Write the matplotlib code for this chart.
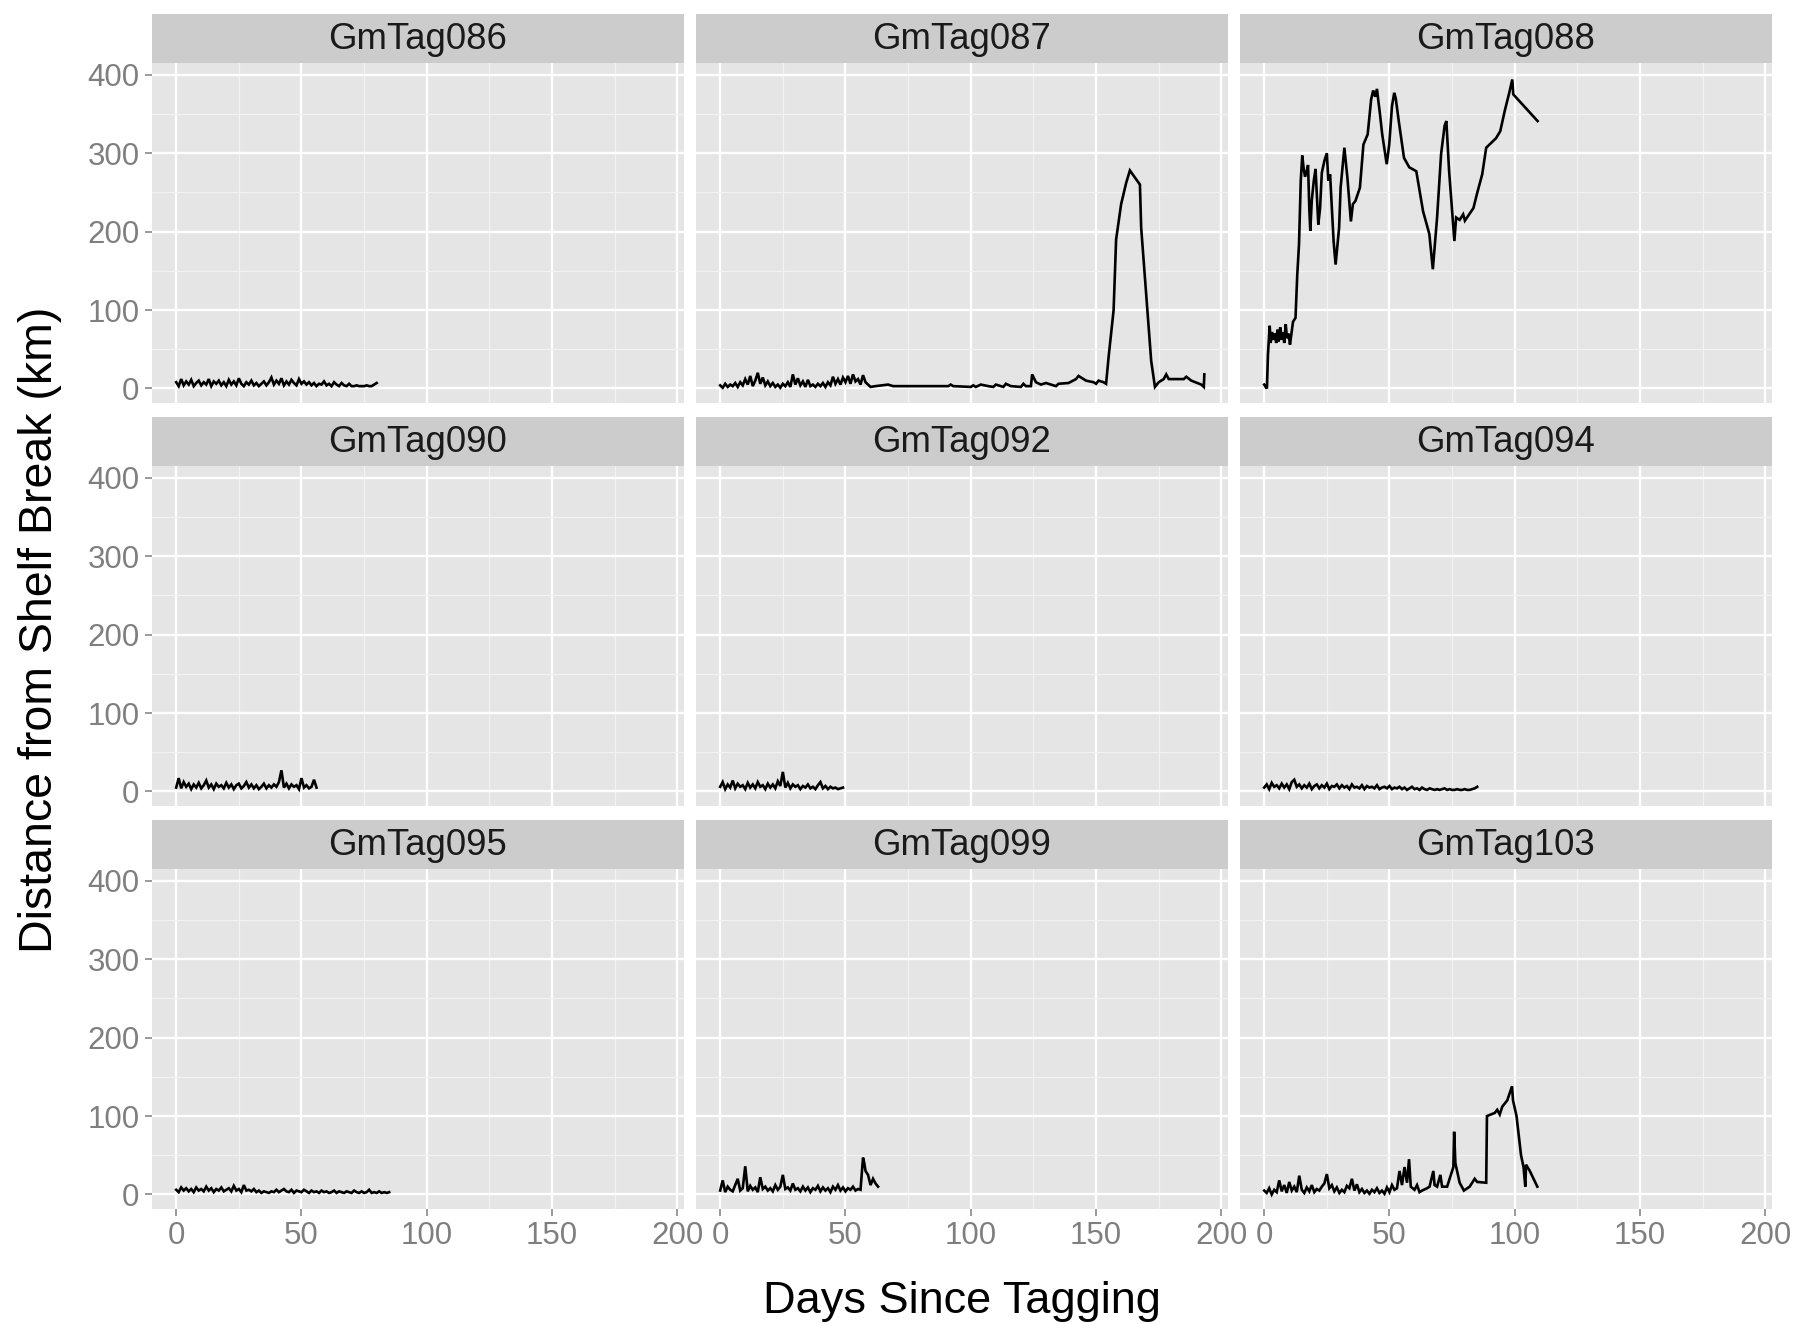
import matplotlib
matplotlib.use("Agg")
import matplotlib.pyplot as plt
from matplotlib.ticker import MultipleLocator

plt.rcParams['font.family'] = ['Liberation Sans', 'DejaVu Sans']

tags = ["GmTag086", "GmTag087", "GmTag088",
        "GmTag090", "GmTag092", "GmTag094",
        "GmTag095", "GmTag099", "GmTag103"]

# ---------------- data (days since tagging, km from shelf break) ----------------
days_086 = [0, 1, 2, 3, 4, 5, 6, 7, 8, 9,
            10, 11, 12, 13, 14, 15, 16, 17, 18, 19,
            20, 21, 22, 23, 24, 25, 26, 27, 28, 29,
            30, 31, 32, 33, 34, 35, 36, 37, 38, 39,
            40, 41, 42, 43, 44, 45, 46, 47, 48, 49,
            50, 51, 52, 53, 54, 55, 56, 57, 58, 59,
            60, 61, 62, 63, 64, 65, 66, 67, 68, 69,
            70, 71, 72, 73, 74, 75, 76, 77, 78, 79,
            80]
dist_086 = [8, 3, 12, 4, 9, 5, 11, 3, 7, 10,
            4, 8, 5, 12, 3, 9, 6, 10, 4, 8,
            3, 11, 5, 9, 4, 13, 6, 3, 8, 5,
            10, 4, 7, 3, 6, 9, 4, 8, 14, 5,
            10, 6, 13, 4, 9, 5, 11, 7, 4, 12,
            6, 9, 5, 8, 4, 7, 3, 6, 5, 9,
            4, 6, 3, 8, 5, 3, 7, 4, 3, 6,
            3, 3, 4, 3, 3, 3, 4, 3, 3, 5,
            7]

days_087 = [0, 1, 2, 3, 4, 5, 6, 7, 8, 9,
            10, 11, 12, 13, 14, 15, 16, 17, 18, 19,
            20, 21, 22, 23, 24, 25, 26, 27, 28, 29,
            30, 31, 32, 33, 34, 35, 36, 37, 38, 39,
            40, 41, 42, 43, 44, 45, 46, 47, 48, 49,
            50, 51, 52, 53, 54, 55, 56, 57,
            58, 60, 62, 67, 69, 80, 91, 92, 93, 100,
            101, 102, 104, 107, 109, 110, 113, 114, 116, 120,
            121, 122, 124, 124.5, 126, 128, 130, 134, 135, 139,
            142, 143, 146, 149, 150, 151, 153, 154, 155, 157,
            158, 160, 162, 163.5, 167.5, 168, 170, 172, 173.5, 175,
            177, 178, 179, 185, 186, 188, 192, 193, 193.2]
dist_087 = [4, 1, 6, 2, 5, 3, 7, 2, 8, 4,
            12, 5, 16, 3, 10, 20, 6, 14, 4, 9,
            3, 7, 2, 5, 1, 6, 3, 8, 2, 18,
            5, 13, 4, 9, 2, 11, 3, 5, 2, 6,
            3, 7, 2, 8, 4, 15, 6, 12, 5, 14,
            8, 16, 6, 18, 9, 12, 5, 17,
            8, 2, 3, 5, 3, 3, 3, 5, 3, 2,
            4, 2, 5, 3, 2, 5, 2, 6, 3, 2,
            6, 3, 3, 18, 8, 5, 7, 3, 6, 7,
            12, 16, 10, 8, 6, 10, 8, 6, 40, 100,
            190, 235, 262, 278, 260, 205, 120, 35, 2, 8,
            12, 18, 12, 12, 15, 10, 5, 2, 18]

days_088 = [0, 0.6, 1.1, 1.5, 2.2, 2.6, 3.1, 3.6, 4.2, 4.8,
            5.3, 5.8, 6.4, 6.9, 7.5, 8.0, 8.6, 9.1, 9.7, 10.3,
            10.8, 11.5, 12.5, 13.2, 13.9, 14.6, 15.2, 15.7, 16.3, 17.0,
            17.5, 18.0, 18.4, 19.0, 19.8, 20.5, 21.6, 22.3, 23.0, 24.0,
            25.0, 25.6, 26.3, 27.7, 28.5, 29.9, 30.5, 32.0, 33.2, 34.6,
            35.4, 36.4, 38.2, 39.6, 41.3, 42.7, 43.5, 44.3, 45.0, 45.4,
            46.2, 47.1, 48.9, 49.9, 51.0, 51.9, 52.5, 53.7, 55.8, 57.9,
            60.7, 63.4, 65.9, 67.3, 69.0, 70.6, 72.0, 72.7, 73.8, 75.9,
            76.6, 78.0, 79.4, 80.1, 83.5, 84.9, 87.0, 88.6, 92.5, 94.2,
            96.0, 97.8, 99.0, 99.4, 109.1]
dist_088 = [5, 2, 0, 43, 80, 58, 72, 62, 70, 58,
            75, 60, 78, 62, 72, 58, 82, 64, 70, 56,
            68, 85, 90, 145, 184, 265, 297, 282, 270, 277,
            285, 230, 201, 240, 265, 280, 209, 230, 275, 290,
            300, 265, 273, 188, 158, 205, 256, 307, 269, 213,
            235, 239, 256, 311, 324, 369, 380, 372, 382, 371,
            350, 324, 286, 311, 360, 377, 370, 341, 294, 282,
            277, 226, 197, 152, 218, 299, 335, 341, 277, 188,
            218, 215, 222, 214, 230, 248, 273, 307, 319, 328,
            354, 377, 394, 375, 341]

days_090 = [0, 1, 2, 3, 4, 5, 6, 7, 8, 9,
            10, 11, 12, 13, 14, 15, 16, 17, 18, 19,
            20, 21, 22, 23, 24, 25, 26, 27, 28, 29,
            30, 31, 32, 33, 34, 35, 36, 37, 38, 39,
            40, 41, 42, 43, 44, 45, 46, 47, 48, 49,
            50, 51, 52, 53, 54, 55, 56]
dist_090 = [5, 17, 4, 12, 6, 10, 3, 9, 5, 11,
            4, 8, 14, 5, 9, 3, 10, 6, 8, 4,
            11, 5, 9, 3, 8, 10, 4, 7, 12, 5,
            9, 4, 8, 3, 6, 10, 4, 8, 5, 9,
            6, 12, 27, 5, 10, 4, 9, 6, 8, 3,
            17, 5, 8, 4, 6, 15, 5]

days_092 = [0, 1, 2, 3, 4, 5, 6, 7, 8, 9,
            10, 11, 12, 13, 14, 15, 16, 17, 18, 19,
            20, 21, 22, 23, 24, 25, 26, 27, 28, 29,
            30, 31, 32, 33, 34, 35, 36, 37, 38, 39,
            40, 41, 42, 43, 44, 45, 46, 47, 48, 49]
dist_092 = [6, 12, 3, 9, 5, 14, 4, 10, 6, 8,
            3, 11, 5, 9, 4, 12, 6, 8, 3, 10,
            5, 9, 4, 13, 7, 25, 5, 11, 4, 9,
            6, 8, 3, 7, 5, 9, 4, 6, 3, 8,
            12, 4, 7, 3, 6, 4, 5, 3, 4, 5]

days_094 = [0, 1, 2, 3, 4, 5, 6, 7, 8, 9,
            10, 11, 12, 13, 14, 15, 16, 17, 18, 19,
            20, 21, 22, 23, 24, 25, 26, 27, 28, 29,
            30, 31, 32, 33, 34, 35, 36, 37, 38, 39,
            40, 41, 42, 43, 44, 45, 46, 47, 48, 49,
            50, 51, 52, 53, 54, 55, 56, 57, 58, 59,
            60, 61, 62, 63, 64, 65, 66, 67, 68, 69,
            70, 71, 72, 73, 74, 75, 76, 77, 78, 79,
            80, 81, 82, 83, 84, 85]
dist_094 = [5, 9, 3, 11, 6, 8, 4, 10, 5, 9,
            3, 12, 15, 6, 9, 4, 8, 5, 10, 3,
            7, 9, 4, 8, 5, 10, 3, 7, 6, 9,
            4, 8, 5, 7, 3, 9, 5, 6, 4, 8,
            3, 7, 5, 6, 4, 8, 3, 5, 6, 4,
            7, 3, 5, 4, 6, 3, 5, 2, 4, 6,
            3, 4, 2, 5, 3, 2, 4, 3, 2, 3,
            2, 3, 4, 2, 3, 2, 2, 3, 2, 2,
            3, 2, 2, 3, 4, 6]

days_095 = [0, 1, 2, 3, 4, 5, 6, 7, 8, 9,
            10, 11, 12, 13, 14, 15, 16, 17, 18, 19,
            20, 21, 22, 23, 24, 25, 26, 27, 28, 29,
            30, 31, 32, 33, 34, 35, 36, 37, 38, 39,
            40, 41, 42, 43, 44, 45, 46, 47, 48, 49,
            50, 51, 52, 53, 54, 55, 56, 57, 58, 59,
            60, 61, 62, 63, 64, 65, 66, 67, 68, 69,
            70, 71, 72, 73, 74, 75, 76, 77, 78, 79,
            80, 81, 82, 83, 84, 85]
dist_095 = [6, 3, 9, 5, 8, 4, 7, 3, 9, 5,
            7, 4, 10, 5, 8, 3, 7, 5, 9, 4,
            6, 8, 4, 11, 5, 7, 3, 12, 5, 6,
            4, 7, 3, 5, 2, 4, 3, 2, 4, 3,
            6, 3, 5, 7, 4, 3, 6, 2, 5, 4,
            3, 6, 4, 2, 5, 3, 4, 2, 5, 3,
            4, 2, 3, 5, 2, 4, 3, 2, 4, 3,
            2, 5, 3, 2, 4, 2, 3, 6, 2, 3,
            2, 4, 2, 3, 2, 3]

days_099 = [0, 1, 2, 3, 4, 5, 6, 7, 8, 9,
            10, 11, 12, 13, 14, 15, 16, 17, 18, 19,
            20, 21, 22, 23, 24, 25, 26, 27, 28, 29,
            30, 31, 32, 33, 34, 35, 36, 37, 38, 39,
            40, 41, 42, 43, 44, 45, 46, 47, 48, 49,
            50, 51, 52, 53, 54, 55, 56,
            57, 57.5, 58, 59, 60, 61, 62, 63]
dist_099 = [5, 18, 3, 10, 6, 4, 12, 20, 5, 8,
            36, 4, 11, 6, 9, 3, 22, 7, 10, 5,
            8, 4, 12, 6, 10, 25, 7, 9, 5, 14,
            6, 8, 4, 10, 5, 9, 3, 8, 6, 11,
            4, 9, 5, 8, 3, 10, 6, 12, 5, 9,
            4, 8, 6, 10, 5, 7, 6,
            47, 40, 30, 25, 12, 20, 14, 10]

days_103 = [0, 1, 2, 3, 4, 5, 6, 7, 8, 9,
            10, 11, 12, 13, 14, 15, 16, 17, 18, 19,
            20, 21, 22, 23, 24, 25, 26, 27, 28, 29,
            30, 31, 32, 33, 34, 35, 36, 37, 38, 39,
            40, 41, 42, 43, 44, 45, 46, 47, 48, 49,
            50, 51, 52, 53, 54, 55, 56, 57, 57.8, 58.5,
            60, 61, 62, 63, 65, 66, 67.5, 68, 69, 70.3,
            71, 73, 75.5, 75.8, 76.3, 78, 79.7, 82, 84, 85,
            88.6, 88.9, 92, 93, 94, 95, 97, 98.9, 99.3, 100.7,
            102.5, 103.5, 104.2, 104.5, 106, 109]
dist_103 = [5, 2, 8, 0, 6, 3, 18, 4, 12, 2,
            16, 5, 10, 3, 24, 6, 2, 9, 4, 12,
            3, 7, 5, 10, 14, 26, 8, 12, 4, 9,
            2, 6, 3, 11, 8, 20, 5, 13, 3, 7,
            2, 5, 1, 6, 3, 8, 2, 5, 1, 9,
            3, 12, 6, 8, 30, 12, 35, 15, 45, 10,
            6, 12, 3, 5, 8, 10, 30, 12, 10, 25,
            10, 10, 35, 80, 40, 15, 5, 10, 20, 16,
            15, 100, 104, 108, 102, 112, 120, 138, 120, 100,
            50, 35, 10, 38, 30, 10]

series = [(days_086, dist_086), (days_087, dist_087), (days_088, dist_088),
          (days_090, dist_090), (days_092, dist_092), (days_094, dist_094),
          (days_095, dist_095), (days_099, dist_099), (days_103, dist_103)]

x_ticks = [0, 50, 100, 150, 200]
y_ticks = [0, 100, 200, 300, 400]

# ---------------- layout ----------------
W, H = 1795, 1324
fig = plt.figure(figsize=(W / 100, H / 100), dpi=100)
fig.patch.set_facecolor("white")

col_left = [152, 696, 1240]
panel_w = 532
strip_top0 = 14
strip_h = 49
panel_h = 340
row_pitch = 403

panel_bg = "#E5E5E5"
strip_bg = "#CCCCCC"
tick_col = "#7F7F7F"

for i, (tag, (d, v)) in enumerate(zip(tags, series)):
    r, c = divmod(i, 3)
    st = strip_top0 + r * row_pitch
    pt = st + strip_h
    left = col_left[c]
    # strip
    sax = fig.add_axes([left / W, 1 - pt / H, panel_w / W, strip_h / H])
    sax.set_facecolor(strip_bg)
    sax.set_xticks([]); sax.set_yticks([])
    for s in sax.spines.values():
        s.set_visible(False)
    sax.text(0.5, 0.47, tag, transform=sax.transAxes, ha="center", va="center",
             fontsize=26.3, color="#1A1A1A")
    # panel
    ax = fig.add_axes([left / W, 1 - (pt + panel_h) / H, panel_w / W, panel_h / H])
    ax.set_facecolor(panel_bg)
    for s in ax.spines.values():
        s.set_visible(False)
    ax.set_xlim(-9.65, 202.65)
    ax.set_ylim(-18.5, 415)
    ax.set_xticks(x_ticks)
    ax.set_yticks(y_ticks)
    ax.xaxis.set_minor_locator(MultipleLocator(25))
    ax.yaxis.set_minor_locator(MultipleLocator(50))
    ax.grid(which="major", color="white", linewidth=1.7)
    ax.grid(which="minor", color="#F2F2F2", linewidth=0.9)
    ax.set_axisbelow(True)
    ax.tick_params(which="minor", length=0)
    ax.tick_params(which="major", length=5, width=1.1, color=tick_col,
                   labelsize=22.5, labelcolor=tick_col, pad=4)
    if r < 2:
        ax.tick_params(axis="x", labelbottom=False, length=0)
    if c > 0:
        ax.tick_params(axis="y", labelleft=False, length=0)
    ax.plot(d, v, color="black", linewidth=1.9, solid_joinstyle="miter")

fig.text(962 / W, 1 - 1301 / H, "Days Since Tagging", ha="center", va="center",
         fontsize=32.5, color="black")
fig.text(40 / W, 1 - 630 / H, "Distance from Shelf Break (km)", ha="center",
         va="center", rotation=90, fontsize=33.5, color="black")

fig.savefig("out.png", dpi=100, facecolor="white")
